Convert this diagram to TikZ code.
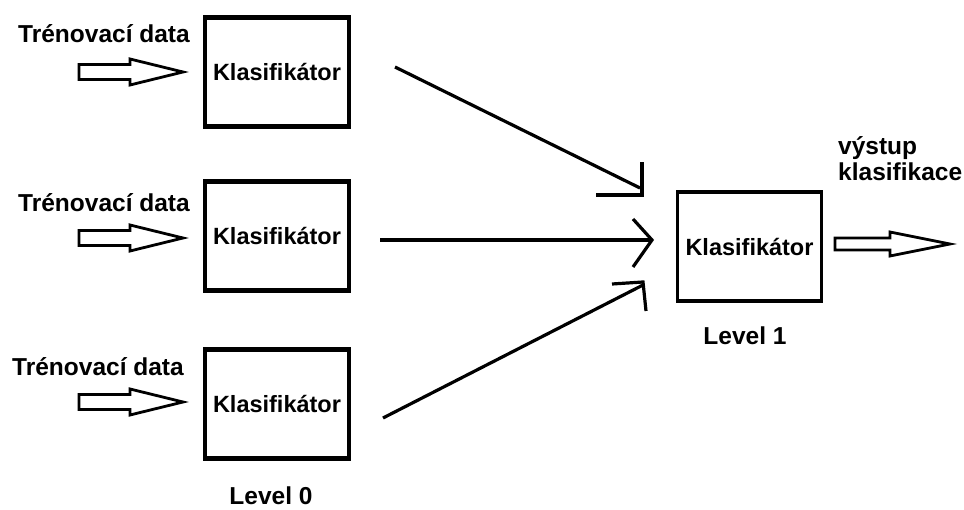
\documentclass[tikz,border=0pt]{standalone}
\usepackage{fontspec}
\setmainfont{Liberation Sans}
\usetikzlibrary{calc}
\begin{document}
\begin{tikzpicture}[x=1pt,y=-1pt,
  lbl/.style={font=\fontsize{24.5}{26}\selectfont\bfseries, inner sep=0pt},
  clsbox/.style={draw, line width=4.2pt, minimum width=144pt, minimum height=109pt,
    inner sep=0pt, font=\fontsize{23.5}{27}\selectfont\bfseries},
  link/.style={line width=3.2pt},
  tipline/.style={line width=3.2pt, line join=miter},
  pics/inarrow/.style={code={
    \draw[line width=2.8pt, line join=miter]
      (0,-7.5) -- (51,-7.5) -- (51,-13) -- (104,0) -- (51,13) -- (51,7.5) -- (0,7.5) -- cycle;}},
  pics/outarrow/.style={code={
    \draw[line width=2.8pt, line join=miter]
      (0,-6) -- (55,-6) -- (55,-12) -- (115,0) -- (55,12) -- (55,6) -- (0,6) -- cycle;}}
]
\useasboundingbox (0,0) rectangle (964,510);

% level 0 classifiers
\node[clsbox] (k1) at (277,72)  {Klasifikátor};
\node[clsbox] (k2) at (277,236) {Klasifikátor};
\node[clsbox] (k3) at (277,404) {Klasifikátor};
% level 1 classifier
\node[clsbox, line width=3.6pt] (k4) at (749.5,246.5) {Klasifikátor};

% training data inputs
\node[lbl, anchor=base west] (t1) at (18,43)  {Trénovací data};
\node[lbl, anchor=base west] (t2) at (18,212) {Trénovací data};
\node[lbl, anchor=base west] (t3) at (12,376) {Trénovací data};
\pic at (79,72)  {inarrow};
\pic at (79,238) {inarrow};
\pic at (79,402) {inarrow};

% output
\node[lbl, anchor=base west, align=left] (out) at (838,181) {výstup\\klasifikace};
\pic at (835,244) {outarrow};

% level captions
\node[lbl, anchor=base] (l0) at (271,504) {Level 0};
\node[lbl, anchor=base] (l1) at (745,345) {Level 1};

% connectors from level 0 to level 1
\coordinate (s1) at (395,67);
\coordinate (e1) at (640,188);
\coordinate (s2) at (380,240);
\coordinate (e2) at (652,240);
\coordinate (s3) at (383,418);
\coordinate (e3) at (643,285);
\draw[link] (s1) -- (e1);
\draw[link] (s2) -- (e2);
\draw[link] (s3) -- (e3);
% hand-drawn tips
\draw[tipline] ($(e1)+(-44,7)$) -- ($(e1)+(2,7)$) -- ($(e1)+(2,-26)$);
\draw[tipline] ($(e2)+(-19,-21)$) -- (e2) -- ($(e2)+(-19,27)$);
\draw[tipline] ($(e3)+(-31,-1)$) -- ($(e3)+(0,-3)$) -- ($(e3)+(3,26)$);
\end{tikzpicture}
\end{document}
